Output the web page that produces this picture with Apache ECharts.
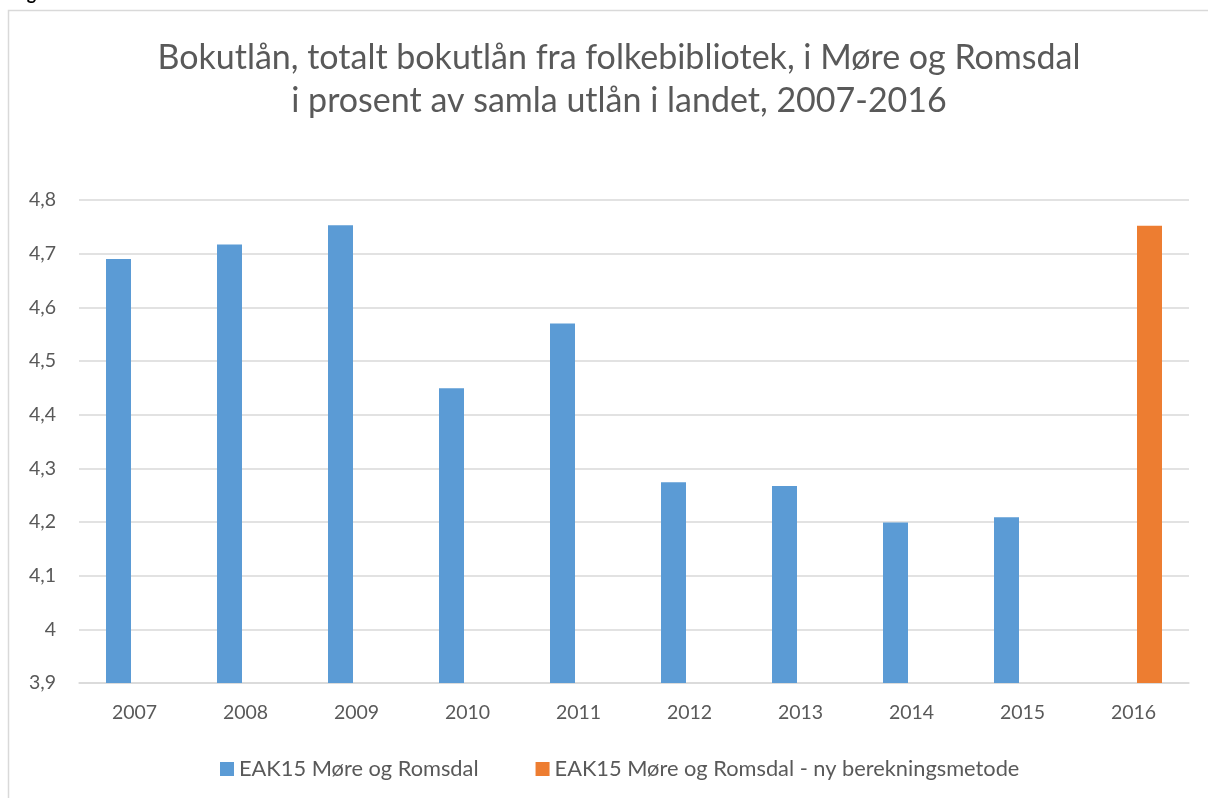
<!DOCTYPE html>
<html>
<head>
<meta charset="utf-8">
<script src="https://cdn.jsdelivr.net/npm/echarts@6/dist/echarts.min.js"></script>
<style>
html,body{margin:0;padding:0;background:#fff;}
#chart{width:1208px;height:798px;}
</style>
</head>
<body>
<div id="chart"></div>
<script>
const categories = ['2007','2008','2009','2010','2011','2012','2013','2014','2015','2016'];
const seriesOldName = 'EAK15 Møre og Romsdal';
const seriesNewName = 'EAK15 Møre og Romsdal - ny berekningsmetode';
const seriesOld = [4.69, 4.717, 4.753, 4.449, 4.57, 4.274, 4.267, 4.199, 4.209, null];
const seriesNew = [null, null, null, null, null, null, null, null, null, 4.752];
const yTicks = {min: 3.9, max: 4.8, interval: 0.1};
const titleText = 'Bokutlån, totalt bokutlån fra folkebibliotek, i Møre og Romsdal\ni prosent av samla utlån i landet, 2007-2016';

const FONT = 'Lato';
const chart = echarts.init(document.getElementById('chart'), null, {renderer: 'canvas'});
chart.setOption({
  animation: false,
  backgroundColor: '#ffffff',
  title: {
    text: titleText,
    left: 614,
    textAlign: 'center',
    top: 32,
    textStyle: {fontFamily: FONT, fontSize: 34, fontWeight: 'normal', color: '#595959', lineHeight: 43}
  },
  graphic: [
    {type: 'rect', shape: {x: 8.5, y: 10.5, width: 1220, height: 820}, style: {fill: 'none', stroke: '#d9d9d9', lineWidth: 1.5}, silent: true},
    {type: 'text', left: 12, top: -15, style: {text: 'Figur 6', font: 'bold 18px Lato', fill: '#000'}, silent: true}
  ],
  legend: {
    top: 753,
    left: 215,
    itemWidth: 14,
    itemHeight: 14,
    itemGap: 57,
    icon: 'rect',
    textStyle: {fontFamily: FONT, fontSize: 21.8, color: '#595959'},
    data: [seriesOldName, seriesNewName]
  },
  grid: {left: 79, right: 19, top: 200, bottom: 115, containLabel: false},
  xAxis: {
    type: 'category',
    data: categories,
    axisLine: {show: true, lineStyle: {color: '#d9d9d9', width: 1.5}},
    axisTick: {show: false},
    axisLabel: {fontFamily: FONT, fontSize: 19.5, color: '#595959', margin: 20}
  },
  yAxis: {
    type: 'value',
    min: yTicks.min,
    max: yTicks.max,
    interval: yTicks.interval,
    axisLine: {show: false},
    axisTick: {show: false},
    splitLine: {lineStyle: {color: '#d9d9d9', width: 1.5}},
    axisLabel: {
      fontFamily: FONT, fontSize: 19.5, color: '#595959', margin: 23,
      formatter: v => String(+v.toFixed(1)).replace('.', ',')
    }
  },
  series: [
    {name: seriesOldName, type: 'bar', data: seriesOld, barWidth: 25, barGap: '28%', itemStyle: {color: '#5b9bd5'}},
    {name: seriesNewName, type: 'bar', data: seriesNew, barWidth: 25, barGap: '28%', itemStyle: {color: '#ed7d31'}}
  ]
});
</script>
</body>
</html>
